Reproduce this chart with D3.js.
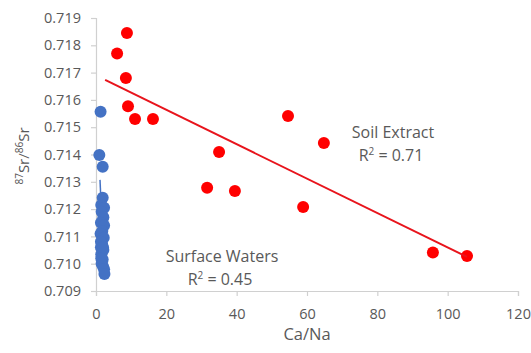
<!DOCTYPE html>
<html>
<head>
<meta charset="utf-8">
<script src="https://cdn.jsdelivr.net/npm/d3@7"></script>
<style>
  body { margin: 0; background: #fff; }
  text { font-family: "Open Sans", sans-serif; fill: #595959; }
</style>
</head>
<body>
<div id="chart"></div>
<script>
var svgWidth = 531;
var svgHeight = 353;

// Soil extract points [Ca/Na, 87Sr/86Sr]
var soilX = [6.0, 8.8, 8.5, 9.1, 11.1, 16.2, 31.6, 35.0, 39.5, 54.6, 58.9, 64.8, 95.8, 105.5];
var soilY = [0.7177, 0.71845, 0.7168, 0.71577, 0.7153, 0.7153, 0.71278, 0.71409, 0.71266, 0.71541, 0.71208, 0.71442, 0.71041, 0.71028];

// Surface water points
var waterX = [1.3, 0.95, 1.9, 1.9, 1.5, 2.3, 1.6, 2.1, 1.4, 2.3, 1.8, 1.3, 2.2, 1.7, 1.4, 2.1, 1.5, 1.9, 1.6, 2.0, 1.5, 2.3, 2.4, 1.4, 2.0];
var waterY = [0.71557, 0.71398, 0.71355, 0.71242, 0.71215, 0.71205, 0.71190, 0.71170, 0.71150, 0.71140, 0.71120, 0.71110, 0.71095, 0.71075, 0.71060, 0.71050, 0.71035, 0.71015, 0.71000, 0.70990, 0.71020, 0.70980, 0.70962, 0.71080, 0.71060];

// Trendline end points
var soilTrendX = [2.6, 105.5];
var soilTrendY = [0.71673, 0.71025];
var waterTrendX = [1.14, 2.2];
var waterTrendY = [0.71307, 0.7100];

var xTicks = [0, 20, 40, 60, 80, 100, 120];
var yTicks = [0.709, 0.710, 0.711, 0.712, 0.713, 0.714, 0.715, 0.716, 0.717, 0.718, 0.719];

var svg = d3.select('#chart')
  .append('svg')
  .attr('width', svgWidth)
  .attr('height', svgHeight);

var x = d3.scaleLinear().domain([0, 120]).range([96, 518]);
var y = d3.scaleLinear().domain([0.709, 0.719]).range([291, 18]);

// x axis
var xAxis = svg.append('g')
  .attr('transform', 'translate(0,' + y(0.709) + ')')
  .call(d3.axisBottom(x).tickValues(xTicks).tickSize(5).tickPadding(13).tickFormat(d3.format('d')));

// y axis
var yAxis = svg.append('g')
  .attr('transform', 'translate(' + x(0) + ',0)')
  .call(d3.axisLeft(y).tickValues(yTicks).tickSize(5).tickPadding(10).tickFormat(d3.format('.3f')));

[xAxis, yAxis].forEach(function(a) {
  a.select('.domain').attr('stroke', '#d0d0d0').attr('stroke-width', 1.2);
  a.selectAll('.tick line').attr('stroke', '#d0d0d0').attr('stroke-width', 1.2);
  a.selectAll('.tick text').style('font-size', '14.5px').attr('fill', '#595959');
});

// trendlines
svg.append('line')
  .attr('x1', x(waterTrendX[0])).attr('y1', y(waterTrendY[0]))
  .attr('x2', x(waterTrendX[1])).attr('y2', y(waterTrendY[1]))
  .attr('stroke', '#4472c4').attr('stroke-width', 1.5);

// points
svg.append('g').selectAll('circle')
  .data(waterX)
  .enter()
  .append('circle')
  .attr('cx', function(d) { return x(d); })
  .attr('cy', function(d, i) { return y(waterY[i]); })
  .attr('r', 6)
  .attr('fill', '#4472c4');

svg.append('g').selectAll('circle')
  .data(soilX)
  .enter()
  .append('circle')
  .attr('cx', function(d) { return x(d); })
  .attr('cy', function(d, i) { return y(soilY[i]); })
  .attr('r', 6)
  .attr('fill', '#ff0000');

svg.append('line')
  .attr('x1', x(soilTrendX[0])).attr('y1', y(soilTrendY[0]))
  .attr('x2', x(soilTrendX[1])).attr('y2', y(soilTrendY[1]))
  .attr('stroke', '#e8141c').attr('stroke-width', 2);

// annotations
function note(cx, cy, lines) {
  var t = svg.append('text')
    .attr('text-anchor', 'middle')
    .style('font-size', '16px');
  t.append('tspan').attr('x', cx).attr('y', cy).text(lines[0]);
  var t2 = t.append('tspan').attr('x', cx - 2).attr('y', cy + 23);
  t2.append('tspan').text('R');
  t2.append('tspan').attr('dy', -6).style('font-size', '10px').text('2');
  t2.append('tspan').attr('dy', 6).text(' = ' + lines[1]);
}
note(393, 138, ['Soil Extract', '0.71']);
note(222, 262, ['Surface Waters', '0.45']);

// axis titles
svg.append('text')
  .attr('x', 307)
  .attr('y', 340)
  .attr('text-anchor', 'middle')
  .style('font-size', '16.5px')
  .text('Ca/Na');

var yt = svg.append('text')
  .attr('transform', 'translate(29,156) rotate(-90)')
  .attr('text-anchor', 'middle')
  .style('font-size', '15px');
yt.append('tspan').attr('dy', -6).style('font-size', '10px').text('87');
yt.append('tspan').attr('dy', 6).text('Sr/');
yt.append('tspan').attr('dy', -6).style('font-size', '10px').text('86');
yt.append('tspan').attr('dy', 6).text('Sr');
</script>
</body>
</html>
